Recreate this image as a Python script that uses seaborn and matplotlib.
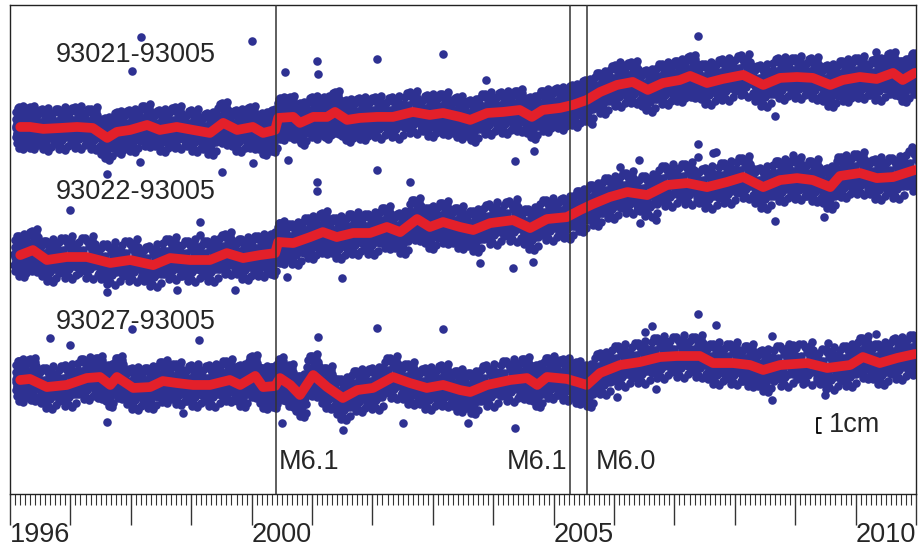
import numpy as np
import pandas as pd
import matplotlib.pyplot as plt
from matplotlib.ticker import MultipleLocator
import seaborn as sns

# Smoothed baseline change (red): decimal year, cm relative to start
years_21 = [1996.17, 1996.33, 1996.55, 1996.83, 1997.11, 1997.37, 1997.61, 1997.77, 1997.99, 1998.27,
            1998.48, 1998.76, 1999.03, 1999.31, 1999.53, 1999.76, 2000.02, 2000.19, 2000.39, 2000.44,
            2000.69, 2000.80, 2001.02, 2001.25, 2001.38, 2001.58, 2001.79, 2002.08, 2002.34, 2002.67,
            2002.95, 2003.17, 2003.45, 2003.62, 2003.90, 2004.16, 2004.44, 2004.64, 2004.82, 2005.11,
            2005.32, 2005.55, 2005.77, 2006.05, 2006.31, 2006.56, 2006.81, 2007.09, 2007.26, 2007.54,
            2007.80, 2008.14, 2008.47, 2008.75, 2009.03, 2009.29, 2009.58, 2009.79, 2010.07, 2010.35,
            2010.62, 2010.78, 2010.98]
trend_21 = [0.00, 0.00, -0.13, -0.07, 0.00, -0.07, -0.73, -0.33, -0.20, 0.13,
            -0.20, 0.00, -0.20, -0.40, 0.27, -0.20, 0.00, -0.40, -0.20, 0.60,
            0.67, 0.27, 0.67, 0.67, 1.00, 0.47, 0.60, 0.67, 0.67, 1.00,
            0.80, 0.93, 0.67, 0.47, 0.93, 1.00, 1.13, 0.67, 1.13, 1.27,
            1.47, 1.80, 2.33, 2.80, 3.00, 2.47, 2.93, 3.13, 3.40, 2.93,
            3.20, 3.47, 2.80, 3.27, 3.33, 3.27, 2.80, 3.13, 3.33, 3.20,
            3.60, 3.13, 3.60]

years_22 = [1996.17, 1996.38, 1996.61, 1996.94, 1997.27, 1997.66, 1997.99, 1998.37, 1998.65, 1998.98,
            1999.31, 1999.59, 1999.86, 2000.14, 2000.39, 2000.44, 2000.69, 2000.97, 2001.18, 2001.41,
            2001.68, 2001.96, 2002.24, 2002.46, 2002.74, 2002.95, 2003.17, 2003.45, 2003.67, 2003.95,
            2004.33, 2004.61, 2004.89, 2005.22, 2005.44, 2005.65, 2005.93, 2006.22, 2006.55, 2006.88,
            2007.21, 2007.54, 2007.87, 2008.14, 2008.47, 2008.75, 2009.03, 2009.29, 2009.58, 2009.74,
            2010.07, 2010.35, 2010.62, 2010.98]
trend_22 = [0.00, 0.33, -0.33, -0.13, -0.13, -0.53, -0.33, -0.67, -0.20, -0.33,
            -0.33, 0.13, -0.20, 0.00, 0.13, 0.87, 0.80, 1.20, 1.53, 1.20,
            1.47, 1.47, 1.87, 1.53, 2.40, 1.87, 2.20, 1.87, 1.67, 2.13,
            2.33, 1.80, 2.40, 2.53, 3.00, 3.40, 3.87, 4.20, 4.00, 4.67,
            4.80, 4.53, 4.87, 5.20, 4.53, 5.00, 5.13, 5.00, 4.53, 5.27,
            5.47, 5.13, 5.20, 5.67]

years_27 = [1996.17, 1996.33, 1996.61, 1996.94, 1997.27, 1997.49, 1997.66, 1997.77, 1998.04, 1998.32,
            1998.53, 1998.76, 1999.03, 1999.31, 1999.64, 1999.81, 2000.06, 2000.19, 2000.39, 2000.47,
            2000.64, 2000.80, 2001.02, 2001.25, 2001.51, 2001.75, 2002.01, 2002.34, 2002.62, 2002.90,
            2003.17, 2003.45, 2003.62, 2003.90, 2004.28, 2004.56, 2004.73, 2004.89, 2005.22, 2005.39,
            2005.55, 2005.77, 2006.10, 2006.43, 2006.76, 2007.04, 2007.42, 2007.64, 2007.97, 2008.25,
            2008.47, 2008.75, 2009.20, 2009.53, 2009.91, 2010.12, 2010.40, 2010.69, 2010.98]
trend_27 = [0.00, 0.07, -0.47, -0.33, 0.13, 0.20, -0.33, 0.20, -0.53, -0.47,
            -0.07, -0.20, -0.33, -0.33, 0.00, -0.33, 0.27, -0.47, -0.40, 0.13,
            -0.33, -1.00, 0.33, -0.47, -1.20, -0.67, -0.53, 0.20, -0.20, -0.53,
            -0.33, -0.67, -0.80, -0.33, 0.00, 0.13, -0.33, 0.20, 0.07, -0.13,
            -0.33, 0.47, 1.00, 1.20, 1.53, 1.60, 1.60, 1.13, 1.13, 1.00,
            0.67, 1.00, 1.13, 0.80, 1.00, 1.53, 1.13, 1.47, 1.73]

# Isolated daily solutions away from the band (year, cm relative to start)
out_years_21 = [2000.01, 1998.17, 1998.02, 2000.55, 2002.08, 2003.17, 2001.08, 2001.10, 2007.39, 2003.88,
                2006.10, 2010.34, 2008.96, 1997.61, 1999.51, 1998.15, 2000.02, 2000.60, 2004.36, 2004.68,
                2008.67, 2005.64]
out_cm_21 = [5.73, 6.00, 3.73, 3.67, 4.53, 4.87, 4.40, 3.53, 6.07, 3.13,
             4.33, 5.00, 4.47, -3.13, -3.00, -2.33, -2.40, -2.20, -2.27, -1.60,
             0.73, 0.20]
out_years_22 = [2001.08, 2001.08, 2002.08, 2002.62, 1996.99, 1999.15, 1999.15, 2007.39, 2007.39, 2007.64,
                2007.69, 2008.96, 2010.93, 2006.41, 2006.10, 2008.67, 2009.48, 2006.43, 2006.70, 2004.33,
                2003.78, 2004.66, 1997.61, 1998.76, 1999.73, 2001.50, 2000.59]
out_cm_22 = [4.87, 4.27, 5.67, 4.87, 3.00, 2.20, 1.33, 7.40, 6.53, 6.80,
             6.87, 6.67, 7.20, 6.33, 5.87, 2.27, 2.53, 2.13, 2.33, -0.87,
             -0.53, -0.47, -2.47, -2.33, -2.33, -1.53, -1.47]
out_years_27 = [2002.08, 2003.17, 2001.10, 1996.66, 1996.99, 1999.13, 1998.02, 1997.61, 2001.51, 2000.50,
                2002.51, 1998.86, 2007.39, 2007.69, 2006.51, 2006.63, 2008.62, 2010.34, 2008.96, 2009.54,
                2004.36, 2003.58, 2006.05, 2006.70, 2008.62, 2009.49]
out_cm_27 = [3.47, 3.40, 2.87, 2.80, 2.33, 2.67, 3.40, -2.80, -3.33, -2.87,
             -2.87, -2.20, 4.40, 3.67, 3.20, 3.60, 2.93, 3.07, 2.33, 2.47,
             -3.20, -2.87, -1.13, -0.60, -1.33, -1.00]

# Spread of the daily solutions about the trend (cm) and their place inside each sample step
resid_cm = [0.07, -0.81, 0.49, -0.20, 1.05, -0.57, 0.29, -1.21, 0.74, -0.10,
            0.40, -0.92, 0.16, 1.24, -0.35, 0.86, -0.68, 0.03, -1.37, 0.61,
            -0.46, 0.96, -0.16, 0.23, -1.08, 0.69, -0.27, 1.40, -0.75, 0.12,
            0.55, -1.26, 0.35, -0.51, 1.14, -0.07, 0.79, -0.87, 0.18, -0.39,
            1.30, -1.45, 0.98, -0.62]
resid_dx = [-0.46, 0.12, -0.21, 0.37, -0.04, 0.29, -0.34, 0.48, 0.06, -0.41,
            0.19, -0.13, 0.42, -0.27, 0.01, 0.33, -0.49, 0.24, -0.09, 0.45,
            -0.31, 0.09, -0.18, 0.39, -0.38, 0.16, -0.01, 0.27, -0.24, 0.44,
            -0.44, 0.04, 0.35, -0.16, 0.21, -0.29, 0.13, -0.06, 0.31, -0.36,
            -0.11, 0.26, -0.40, 0.47]

pairs = ["93021-93005", "93022-93005", "93027-93005"]
offsets = [24.47, 15.93, 7.60]          # vertical stacking of the pairs, cm
label_y = [29.27, 20.13, 11.47]

quakes = [2000.40, 2005.27, 2005.55]
quake_labels = ["M6.1", "M6.1", "M6.0"]

BLUE = "#2E3192"
RED = "#E3202A"

trend_rows, blue_rows = [], []
series = [(years_21, trend_21, out_years_21, out_cm_21),
          (years_22, trend_22, out_years_22, out_cm_22),
          (years_27, trend_27, out_years_27, out_cm_27)]
for name, off, (yrs, vals, oy, ov) in zip(pairs, offsets, series):
    yrs = np.array(yrs)
    mids = (yrs[1:] + yrs[:-1]) / 2
    left = np.r_[2 * yrs[0] - mids[0], mids]
    right = np.r_[mids, 2 * yrs[-1] - mids[-1]]
    for t, v, lo, hi in zip(yrs, vals, left, right):
        trend_rows.append({"pair": name, "year": t, "cm": v + off})
        for dx, dy in zip(resid_dx, resid_cm):
            blue_rows.append({"pair": name, "year": (lo + hi) / 2 + dx * (hi - lo), "cm": v + dy + off})
    for t, v in zip(oy, ov):
        blue_rows.append({"pair": name, "year": t, "cm": v + off})

trend = pd.DataFrame(trend_rows)
blue = pd.DataFrame(blue_rows)

sns.set_style("white")
plt.rcParams["font.family"] = ["Liberation Sans", "DejaVu Sans"]

fig = plt.figure(figsize=(9.19, 5.49), dpi=100)
ax = fig.add_axes([10 / 919, 55 / 549, 906 / 919, 489 / 549])

sns.scatterplot(data=blue, x="year", y="cm", color=BLUE, s=38, linewidth=0, ax=ax, zorder=2)
sns.lineplot(data=trend, x="year", y="cm", units="pair", estimator=None, color=RED,
             linewidth=7, solid_joinstyle="round", solid_capstyle="round", ax=ax, zorder=3)

for q in quakes:
    ax.axvline(q, color="#333333", lw=1.1, zorder=5)

for name, ly in zip(pairs, label_y):
    ax.text(1996.75, ly, name, fontsize=19.5, ha="left", va="center", zorder=6)

ax.text(2000.45, 2.13, quake_labels[0], fontsize=19.5, ha="left", va="center")
ax.text(2005.22, 2.13, quake_labels[1], fontsize=19.5, ha="right", va="center")
ax.text(2005.70, 2.13, quake_labels[2], fontsize=19.5, ha="left", va="center")

# 1 cm scale bar
ax.plot([2009.42, 2009.36, 2009.36, 2009.42], [5.07, 5.07, 4.07, 4.07], color="black", lw=1.3)
ax.text(2009.56, 4.6, "1cm", fontsize=19.5, ha="left", va="center")

ax.set_xlim(1996, 2011)
ax.set_ylim(0, 32.6)
ax.set_yticks([])
ax.set_xlabel("")
ax.set_ylabel("")

major_years = list(range(1996, 2012))
ax.set_xticks(major_years)
ax.set_xticklabels([str(y) if y in (1996, 2000, 2005, 2010) else "" for y in major_years], fontsize=19.5)
for lbl in ax.get_xticklabels():
    lbl.set_horizontalalignment("left")
ax.xaxis.set_minor_locator(MultipleLocator(1 / 12))
ax.tick_params(axis="x", which="major", direction="out", length=22, width=1, color="#333333", pad=-2,
               bottom=True)
ax.tick_params(axis="x", which="minor", direction="out", length=8, width=0.8, color="#333333",
               bottom=True)

for sp in ax.spines.values():
    sp.set_visible(True)
    sp.set_color("#222222")
    sp.set_linewidth(1.0)

fig.savefig("out.png", dpi=100)
